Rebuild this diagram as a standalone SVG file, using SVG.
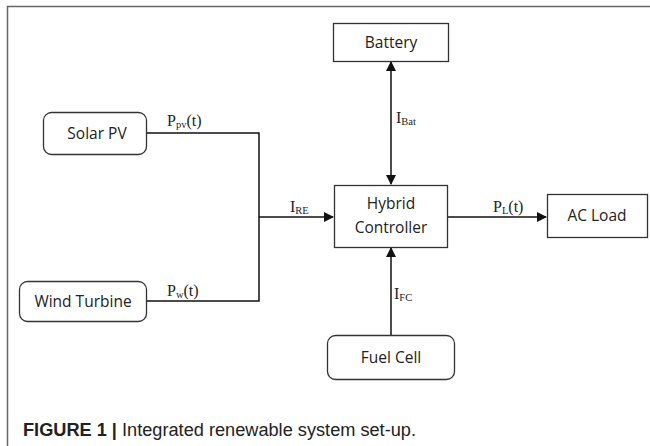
<svg xmlns="http://www.w3.org/2000/svg" width="650" height="446" viewBox="0 0 650 446">
<style>
.box{fill:#fff;stroke:#333;stroke-width:1.3}
.t{font-family:"Open Sans","Liberation Sans",sans-serif;font-size:15.5px;fill:#222;text-anchor:middle}
.l{font-family:"Liberation Serif",serif;font-size:16px;fill:#222}
.s{font-size:10.5px}
.c{stroke:#111;stroke-width:1.5;fill:none}
.cap{font-family:"Liberation Sans",Arial,sans-serif;font-size:18px;fill:#222}
</style>
<defs>
<marker id="ah" markerWidth="10" markerHeight="10" refX="9" refY="5" orient="auto" markerUnits="userSpaceOnUse">
<path d="M0,0 L10,5 L0,10 z" fill="#111"/>
</marker>
<marker id="ahs" markerWidth="10" markerHeight="10" refX="9" refY="5" orient="auto-start-reverse" markerUnits="userSpaceOnUse">
<path d="M0,0 L10,5 L0,10 z" fill="#111"/>
</marker>
</defs>
<path d="M7.5,446 V6.5 H650" fill="none" stroke="#666" stroke-width="1.5"/>
<g id="connectors">
<path class="c" d="M147,133 H259 V301 H147"/>
<path class="c" d="M259,217 H333" marker-end="url(#ah)"/>
<path class="c" d="M391,62 V184" marker-start="url(#ahs)" marker-end="url(#ahs)"/>
<path class="c" d="M448,217 H546" marker-end="url(#ah)"/>
<path class="c" d="M391,335 V248" marker-end="url(#ah)"/>
<text class="l" x="167" y="126">P<tspan class="s" dy="2">pv</tspan><tspan dy="-2">(t)</tspan></text>
<text class="l" x="167" y="296">P<tspan class="s" dy="2">w</tspan><tspan dy="-2">(t)</tspan></text>
<text class="l" x="290" y="212">I<tspan class="s" dy="2">RE</tspan></text>
<text class="l" x="396" y="123">I<tspan class="s" dy="2">Bat</tspan></text>
<text class="l" x="394" y="299">I<tspan class="s" dy="2">FC</tspan></text>
<text class="l" x="493" y="212">P<tspan class="s" dy="2">L</tspan><tspan dy="-2">(t)</tspan></text>
</g>
<g id="battery"><rect class="box" x="333.5" y="23.5" width="115" height="38"/><text class="t" x="391" y="48">Battery</text></g>
<g id="solar"><rect class="box" x="43.5" y="112.5" width="103" height="42" rx="8"/><text class="t" x="97" y="139">Solar PV</text></g>
<g id="wind"><rect class="box" x="19.5" y="281.5" width="127" height="40" rx="8"/><text class="t" x="83" y="307">Wind Turbine</text></g>
<g id="hybrid"><rect class="box" x="334.5" y="185.5" width="113" height="62"/><text class="t" x="391" y="209">Hybrid</text><text class="t" x="391" y="233">Controller</text></g>
<g id="acload"><rect class="box" x="547.5" y="194.5" width="100" height="43"/><text class="t" x="597" y="221">AC Load</text></g>
<g id="fuel"><rect class="box" x="327.5" y="335.5" width="127" height="44" rx="8"/><text class="t" x="391" y="363">Fuel Cell</text></g>
<text class="cap" x="23" y="436" textLength="393" lengthAdjust="spacingAndGlyphs"><tspan font-weight="bold">FIGURE 1 |</tspan> Integrated renewable system set-up.</text>
</svg>
